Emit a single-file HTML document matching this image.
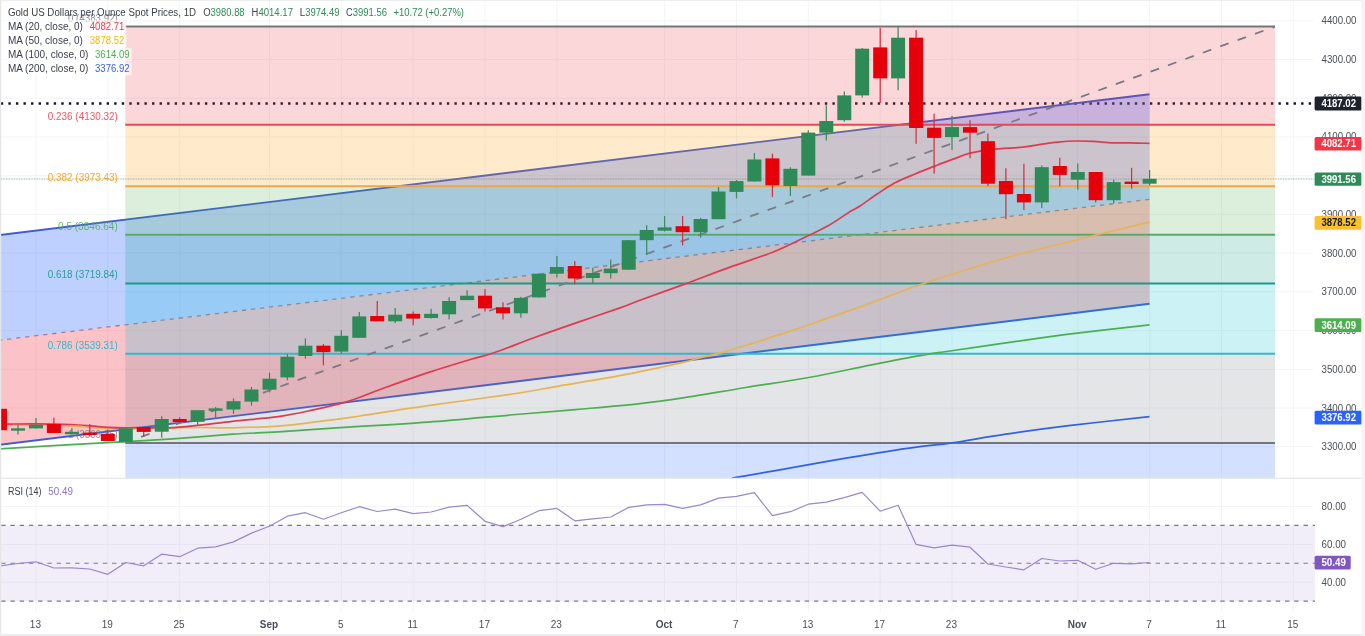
<!DOCTYPE html>
<html lang="en"><head><meta charset="utf-8"><title>Gold US Dollars per Ounce Spot Prices, 1D</title>
<style>html,body{margin:0;padding:0;background:#fff;overflow:hidden}svg{display:block}</style></head>
<body>
<svg width="1365" height="636" viewBox="0 0 1365 636" font-family="'Liberation Sans', sans-serif">
<rect width="1365" height="636" fill="#fff"/>
<g stroke="#f3f4f8" stroke-width="1">
<line x1="36.0" y1="1" x2="36.0" y2="612"/>
<line x1="107.8" y1="1" x2="107.8" y2="612"/>
<line x1="179.7" y1="1" x2="179.7" y2="612"/>
<line x1="269.5" y1="1" x2="269.5" y2="612"/>
<line x1="341.3" y1="1" x2="341.3" y2="612"/>
<line x1="413.2" y1="1" x2="413.2" y2="612"/>
<line x1="485.0" y1="1" x2="485.0" y2="612"/>
<line x1="556.9" y1="1" x2="556.9" y2="612"/>
<line x1="664.6" y1="1" x2="664.6" y2="612"/>
<line x1="736.5" y1="1" x2="736.5" y2="612"/>
<line x1="808.3" y1="1" x2="808.3" y2="612"/>
<line x1="880.2" y1="1" x2="880.2" y2="612"/>
<line x1="952.0" y1="1" x2="952.0" y2="612"/>
<line x1="1077.8" y1="1" x2="1077.8" y2="612"/>
<line x1="1149.6" y1="1" x2="1149.6" y2="612"/>
<line x1="1221.5" y1="1" x2="1221.5" y2="612"/>
<line x1="1293.3" y1="1" x2="1293.3" y2="612"/>
<line x1="1" y1="20.8" x2="1313" y2="20.8"/>
<line x1="1" y1="59.5" x2="1313" y2="59.5"/>
<line x1="1" y1="98.2" x2="1313" y2="98.2"/>
<line x1="1" y1="136.9" x2="1313" y2="136.9"/>
<line x1="1" y1="175.7" x2="1313" y2="175.7"/>
<line x1="1" y1="214.4" x2="1313" y2="214.4"/>
<line x1="1" y1="253.1" x2="1313" y2="253.1"/>
<line x1="1" y1="291.8" x2="1313" y2="291.8"/>
<line x1="1" y1="330.6" x2="1313" y2="330.6"/>
<line x1="1" y1="369.3" x2="1313" y2="369.3"/>
<line x1="1" y1="408.0" x2="1313" y2="408.0"/>
<line x1="1" y1="446.7" x2="1313" y2="446.7"/>
<line x1="1" y1="506.5" x2="1313" y2="506.5"/>
<line x1="1" y1="544.4" x2="1313" y2="544.4"/>
<line x1="1" y1="582.2" x2="1313" y2="582.2"/>
</g>
<line x1="0.8" y1="103.4" x2="1313" y2="103.4" stroke="#131722" stroke-width="2.5" stroke-dasharray="2.4 5.16"/>
<polygon points="-2.0,235.2 1149.5,94.2 1149.5,199.3 -2.0,340.4" fill="#2962ff" fill-opacity="0.3"/>
<polygon points="-2.0,340.4 1149.5,199.3 1149.5,303.8 -2.0,445.0" fill="#f23645" fill-opacity="0.3"/>
<line x1="-2.0" y1="340.4" x2="1149.5" y2="199.3" stroke="#a57d98" stroke-width="1.3" stroke-dasharray="4.3 4.8"/>
<line x1="-2.0" y1="235.2" x2="1149.5" y2="94.2" stroke="#3f5bd6" stroke-width="1.9"/>
<line x1="-2.0" y1="445.0" x2="1149.5" y2="303.8" stroke="#3f5bd6" stroke-width="1.9"/>
<g fill-opacity="0.2">
<rect x="125.3" y="26.6" width="1149.7" height="98.1" fill="#f23645"/>
<rect x="125.3" y="124.7" width="1149.7" height="61.6" fill="#ff9800"/>
<rect x="125.3" y="186.3" width="1149.7" height="48.4" fill="#4caf50"/>
<rect x="125.3" y="234.7" width="1149.7" height="48.7" fill="#089981"/>
<rect x="125.3" y="283.4" width="1149.7" height="70.4" fill="#00bcd4"/>
<rect x="125.3" y="353.8" width="1149.7" height="89.2" fill="#787b86"/>
<rect x="125.3" y="443.0" width="1149.7" height="35.3" fill="#2962ff"/>
</g>
<line x1="125.3" y1="26.6" x2="1275.0" y2="26.6" stroke="#77757c" stroke-width="2"/>
<line x1="125.3" y1="124.7" x2="1275.0" y2="124.7" stroke="#e04a5c" stroke-width="2"/>
<line x1="125.3" y1="186.3" x2="1275.0" y2="186.3" stroke="#eaa84a" stroke-width="2"/>
<line x1="125.3" y1="234.7" x2="1275.0" y2="234.7" stroke="#58ab66" stroke-width="2"/>
<line x1="125.3" y1="283.4" x2="1275.0" y2="283.4" stroke="#1c9a86" stroke-width="2"/>
<line x1="125.3" y1="353.8" x2="1275.0" y2="353.8" stroke="#30b9cc" stroke-width="2"/>
<line x1="125.3" y1="443.0" x2="1275.0" y2="443.0" stroke="#77757c" stroke-width="2"/>
<line x1="125.8" y1="442.4" x2="1275.0" y2="26.6" stroke="#787b86" stroke-width="1.8" stroke-dasharray="9 9.51" stroke-dashoffset="2.3"/>
<text x="68.0" y="21.5" font-size="10.00" fill="#787b86" text-anchor="start" textLength="49.8" lengthAdjust="spacingAndGlyphs" fill-opacity="0.85">0 (4383.92)</text>
<text x="47.8" y="119.6" font-size="10.00" fill="#f23645" text-anchor="start" textLength="70.0" lengthAdjust="spacingAndGlyphs" fill-opacity="0.85">0.236 (4130.32)</text>
<text x="47.8" y="181.2" font-size="10.00" fill="#ff9800" text-anchor="start" textLength="70.0" lengthAdjust="spacingAndGlyphs" fill-opacity="0.85">0.382 (3973.43)</text>
<text x="58.0" y="229.6" font-size="10.00" fill="#4caf50" text-anchor="start" textLength="59.8" lengthAdjust="spacingAndGlyphs" fill-opacity="0.85">0.5 (3846.64)</text>
<text x="47.8" y="278.3" font-size="10.00" fill="#089981" text-anchor="start" textLength="70.0" lengthAdjust="spacingAndGlyphs" fill-opacity="0.85">0.618 (3719.84)</text>
<text x="47.8" y="348.7" font-size="10.00" fill="#00bcd4" text-anchor="start" textLength="70.0" lengthAdjust="spacingAndGlyphs" fill-opacity="0.85">0.786 (3539.31)</text>
<text x="68.0" y="437.9" font-size="10.00" fill="#787b86" text-anchor="start" textLength="49.8" lengthAdjust="spacingAndGlyphs" fill-opacity="0.85">1 (3309.35)</text>
<g fill="none" stroke-width="1.7" stroke-linejoin="round">
<path d="M-2.0 449.0C10.9 448.2 54.1 445.5 75.4 444.3C96.7 443.1 109.5 442.6 125.7 441.7C141.9 440.8 154.9 440.1 172.7 438.9C190.5 437.6 214.9 435.4 232.5 434.2C250.1 433.0 260.3 433.0 278.2 431.9C296.1 430.8 315.0 429.3 340.0 427.7C365.0 426.1 398.7 424.4 428.0 422.2C457.3 420.0 490.3 416.7 516.0 414.5C541.7 412.3 561.3 410.8 582.0 409.0C602.7 407.2 623.2 405.5 640.0 403.6C656.8 401.8 665.4 400.6 683.0 397.9C700.6 395.2 724.8 390.9 745.8 387.5C766.8 384.1 787.7 381.3 808.7 377.5C829.7 373.7 853.1 368.5 871.6 364.9C890.1 361.3 908.1 357.8 920.0 355.7C931.9 353.6 928.7 354.1 943.0 352.0C957.3 349.9 984.8 345.9 1005.8 342.9C1026.8 339.9 1044.8 337.1 1068.7 334.1C1092.7 331.1 1136.0 326.4 1149.5 324.8" stroke="#4caf50"/>
<path d="M732.0 478.2C739.5 476.9 759.0 473.5 777.0 470.3C795.0 467.1 822.8 462.1 840.0 459.2C857.2 456.2 866.7 454.7 880.0 452.6C893.3 450.5 908.0 448.3 920.0 446.7C932.0 445.1 937.7 445.0 952.0 442.9C966.3 440.8 986.3 437.0 1005.8 434.1C1025.2 431.2 1044.8 428.5 1068.7 425.6C1092.7 422.7 1136.0 418.2 1149.5 416.7" stroke="#2f62e6"/>
<path d="M-2.0 425.3C4.3 425.3 23.9 425.1 36.0 425.2C48.1 425.3 58.4 425.4 70.4 425.9C82.4 426.4 98.8 428.0 108.0 428.4C117.2 428.8 117.0 428.3 125.7 428.2C134.4 428.1 148.1 427.9 160.0 427.8C171.9 427.7 185.3 427.5 197.4 427.5C209.5 427.5 219.0 428.0 232.5 427.8C246.0 427.6 264.7 427.0 278.2 426.1C291.7 425.2 303.1 423.4 313.4 422.2C323.7 421.0 332.2 419.9 340.0 418.9C347.8 417.9 345.3 418.2 360.0 416.0C374.7 413.8 402.0 409.4 428.0 405.7C454.0 401.9 494.0 396.8 516.0 393.5C538.0 390.2 546.0 388.2 560.0 385.8C574.0 383.4 586.7 381.6 600.0 379.2C613.3 376.8 626.2 374.5 640.0 371.7C653.8 368.9 673.0 364.7 683.0 362.4C693.0 360.1 693.0 359.7 700.0 357.9C707.0 356.1 716.8 353.9 725.2 351.6C733.6 349.3 741.9 346.7 750.3 344.1C758.7 341.5 767.1 338.6 775.5 335.9C783.9 333.2 792.2 330.5 800.6 327.7C809.0 324.9 815.9 322.3 825.8 318.9C835.7 315.4 852.4 309.7 860.0 307.0C867.6 304.3 861.6 306.3 871.6 302.6C881.6 298.9 904.3 290.1 920.0 284.7C935.7 279.3 950.0 274.9 965.7 270.0C981.4 265.1 998.6 259.8 1014.0 255.5C1029.4 251.2 1043.3 248.2 1058.0 244.5C1072.7 240.8 1086.8 237.2 1102.0 233.5C1117.2 229.8 1141.6 224.1 1149.5 222.2" stroke="#e6b355"/>
<path d="M-2.0 424.2C-0.6 424.2 0.2 424.2 6.5 424.1C12.8 424.1 25.4 423.8 36.0 423.9C46.6 424.0 61.3 424.2 70.4 424.5C79.5 424.8 84.2 425.3 90.5 425.8C96.8 426.3 102.1 427.0 108.0 427.4C113.9 427.8 121.1 427.9 125.7 427.9C130.3 427.9 128.6 427.6 135.8 427.6C143.1 427.6 158.9 428.2 169.2 427.8C179.5 427.4 186.8 426.5 197.4 425.4C208.0 424.3 219.0 422.8 232.5 421.3C246.0 419.8 264.7 418.5 278.2 416.6C291.7 414.7 303.1 412.1 313.4 409.9C323.7 407.7 332.0 405.7 339.8 403.6C347.6 401.5 352.6 399.8 360.0 397.2C367.4 394.6 372.7 392.1 384.0 388.0C395.3 383.9 413.3 377.4 428.0 372.6C442.7 367.8 461.0 362.3 472.0 359.0C483.0 355.7 483.0 356.6 494.0 352.8C505.0 349.0 523.3 341.6 538.0 336.3C552.7 331.0 568.3 325.6 582.0 320.9C595.7 316.2 610.3 311.3 620.0 307.9C629.7 304.5 629.0 304.4 640.0 300.3C651.0 296.2 671.0 289.1 686.0 283.6C701.0 278.1 715.3 272.4 730.0 267.1C744.7 261.8 761.2 256.8 774.0 251.7C786.8 246.6 797.8 240.7 807.0 236.3C816.2 231.9 821.7 229.5 829.0 225.3C836.3 221.1 845.8 214.2 851.0 211.0C856.2 207.8 855.6 208.9 860.0 206.0C864.4 203.1 871.8 197.7 877.6 193.8C883.4 189.9 888.8 186.1 895.0 182.8C901.2 179.5 908.0 176.9 915.0 174.0C922.0 171.1 930.4 167.8 937.0 165.2C943.6 162.6 949.2 160.6 954.7 158.6C960.2 156.6 963.8 154.6 970.0 153.1C976.2 151.6 983.2 150.4 992.0 149.4C1000.8 148.4 1014.8 148.0 1022.9 147.2C1031.0 146.3 1034.7 145.2 1040.5 144.3C1046.3 143.5 1052.1 142.7 1058.0 142.1C1063.9 141.5 1069.8 141.1 1075.7 141.0C1081.6 140.9 1087.1 141.1 1093.3 141.4C1099.5 141.7 1106.8 142.6 1113.0 142.8C1119.2 143.0 1124.6 142.7 1130.7 142.8C1136.8 142.9 1146.4 143.3 1149.5 143.4" stroke="#e03a52"/>
</g>
<line x1="1" y1="179.0" x2="1314" y2="179.0" stroke="#6f9382" stroke-opacity="0.8" stroke-width="1.2" stroke-dasharray="0.85 0.8"/>
<line x1="0.0" y1="408.8" x2="0.0" y2="430.2" stroke="#d4303f" stroke-width="1.25"/>
<rect x="-7.0" y="408.8" width="14.0" height="21.4" fill="#e6000a"/>
<line x1="18.0" y1="425.0" x2="18.0" y2="434.5" stroke="#3d8a5f" stroke-width="1.25"/>
<rect x="11.0" y="428.3" width="14.0" height="2.4" fill="#2e8b57"/>
<line x1="36.0" y1="418.0" x2="36.0" y2="428.4" stroke="#3d8a5f" stroke-width="1.25"/>
<rect x="29.0" y="424.8" width="14.0" height="3.6" fill="#2e8b57"/>
<line x1="53.9" y1="417.8" x2="53.9" y2="433.0" stroke="#d4303f" stroke-width="1.25"/>
<rect x="46.9" y="424.0" width="14.0" height="9.0" fill="#e6000a"/>
<line x1="71.9" y1="428.0" x2="71.9" y2="434.5" stroke="#3d8a5f" stroke-width="1.25"/>
<rect x="64.9" y="431.8" width="14.0" height="2.4" fill="#2e8b57"/>
<line x1="89.8" y1="424.0" x2="89.8" y2="436.4" stroke="#d4303f" stroke-width="1.25"/>
<rect x="82.8" y="432.6" width="14.0" height="2.4" fill="#e6000a"/>
<line x1="107.8" y1="429.5" x2="107.8" y2="441.0" stroke="#d4303f" stroke-width="1.25"/>
<rect x="100.8" y="433.8" width="14.0" height="7.2" fill="#e6000a"/>
<line x1="125.8" y1="428.3" x2="125.8" y2="442.2" stroke="#3d8a5f" stroke-width="1.25"/>
<rect x="118.8" y="428.3" width="14.0" height="13.9" fill="#2e8b57"/>
<line x1="143.7" y1="427.0" x2="143.7" y2="436.5" stroke="#d4303f" stroke-width="1.25"/>
<rect x="136.7" y="427.0" width="14.0" height="4.9" fill="#e6000a"/>
<line x1="161.7" y1="416.2" x2="161.7" y2="437.7" stroke="#3d8a5f" stroke-width="1.25"/>
<rect x="154.7" y="419.0" width="14.0" height="12.7" fill="#2e8b57"/>
<line x1="179.7" y1="417.3" x2="179.7" y2="423.0" stroke="#d4303f" stroke-width="1.25"/>
<rect x="172.7" y="419.0" width="14.0" height="3.0" fill="#e6000a"/>
<line x1="197.6" y1="410.2" x2="197.6" y2="426.0" stroke="#3d8a5f" stroke-width="1.25"/>
<rect x="190.6" y="410.2" width="14.0" height="11.6" fill="#2e8b57"/>
<line x1="215.6" y1="407.0" x2="215.6" y2="417.8" stroke="#3d8a5f" stroke-width="1.25"/>
<rect x="208.6" y="408.4" width="14.0" height="2.4" fill="#2e8b57"/>
<line x1="233.5" y1="398.3" x2="233.5" y2="413.7" stroke="#3d8a5f" stroke-width="1.25"/>
<rect x="226.5" y="401.2" width="14.0" height="8.3" fill="#2e8b57"/>
<line x1="251.5" y1="386.9" x2="251.5" y2="405.6" stroke="#3d8a5f" stroke-width="1.25"/>
<rect x="244.5" y="389.5" width="14.0" height="12.1" fill="#2e8b57"/>
<line x1="269.5" y1="372.6" x2="269.5" y2="392.4" stroke="#3d8a5f" stroke-width="1.25"/>
<rect x="262.5" y="378.7" width="14.0" height="11.0" fill="#2e8b57"/>
<line x1="287.4" y1="353.8" x2="287.4" y2="380.3" stroke="#3d8a5f" stroke-width="1.25"/>
<rect x="280.4" y="356.7" width="14.0" height="20.7" fill="#2e8b57"/>
<line x1="305.4" y1="338.4" x2="305.4" y2="358.7" stroke="#3d8a5f" stroke-width="1.25"/>
<rect x="298.4" y="345.7" width="14.0" height="10.3" fill="#2e8b57"/>
<line x1="323.4" y1="344.0" x2="323.4" y2="365.3" stroke="#d4303f" stroke-width="1.25"/>
<rect x="316.4" y="345.7" width="14.0" height="6.4" fill="#e6000a"/>
<line x1="341.3" y1="330.3" x2="341.3" y2="353.8" stroke="#3d8a5f" stroke-width="1.25"/>
<rect x="334.3" y="335.8" width="14.0" height="15.8" fill="#2e8b57"/>
<line x1="359.3" y1="312.0" x2="359.3" y2="337.8" stroke="#3d8a5f" stroke-width="1.25"/>
<rect x="352.3" y="316.4" width="14.0" height="21.4" fill="#2e8b57"/>
<line x1="377.2" y1="301.0" x2="377.2" y2="321.3" stroke="#d4303f" stroke-width="1.25"/>
<rect x="370.2" y="316.0" width="14.0" height="5.3" fill="#e6000a"/>
<line x1="395.2" y1="308.0" x2="395.2" y2="323.0" stroke="#3d8a5f" stroke-width="1.25"/>
<rect x="388.2" y="314.7" width="14.0" height="6.6" fill="#2e8b57"/>
<line x1="413.2" y1="311.4" x2="413.2" y2="325.2" stroke="#d4303f" stroke-width="1.25"/>
<rect x="406.2" y="313.8" width="14.0" height="4.8" fill="#e6000a"/>
<line x1="431.1" y1="308.7" x2="431.1" y2="318.6" stroke="#3d8a5f" stroke-width="1.25"/>
<rect x="424.1" y="313.8" width="14.0" height="4.2" fill="#2e8b57"/>
<line x1="449.1" y1="297.2" x2="449.1" y2="319.6" stroke="#3d8a5f" stroke-width="1.25"/>
<rect x="442.1" y="301.0" width="14.0" height="13.3" fill="#2e8b57"/>
<line x1="467.1" y1="290.2" x2="467.1" y2="300.1" stroke="#3d8a5f" stroke-width="1.25"/>
<rect x="460.1" y="295.7" width="14.0" height="4.4" fill="#2e8b57"/>
<line x1="485.0" y1="289.0" x2="485.0" y2="311.5" stroke="#d4303f" stroke-width="1.25"/>
<rect x="478.0" y="295.7" width="14.0" height="12.7" fill="#e6000a"/>
<line x1="503.0" y1="302.3" x2="503.0" y2="319.5" stroke="#d4303f" stroke-width="1.25"/>
<rect x="496.0" y="307.3" width="14.0" height="6.0" fill="#e6000a"/>
<line x1="520.9" y1="296.8" x2="520.9" y2="317.7" stroke="#3d8a5f" stroke-width="1.25"/>
<rect x="513.9" y="297.9" width="14.0" height="15.4" fill="#2e8b57"/>
<line x1="538.9" y1="273.3" x2="538.9" y2="297.8" stroke="#3d8a5f" stroke-width="1.25"/>
<rect x="531.9" y="273.7" width="14.0" height="23.7" fill="#2e8b57"/>
<line x1="556.9" y1="256.0" x2="556.9" y2="277.6" stroke="#3d8a5f" stroke-width="1.25"/>
<rect x="549.9" y="267.0" width="14.0" height="6.7" fill="#2e8b57"/>
<line x1="574.8" y1="260.9" x2="574.8" y2="284.2" stroke="#d4303f" stroke-width="1.25"/>
<rect x="567.8" y="266.0" width="14.0" height="12.5" fill="#e6000a"/>
<line x1="592.8" y1="267.5" x2="592.8" y2="283.6" stroke="#3d8a5f" stroke-width="1.25"/>
<rect x="585.8" y="273.0" width="14.0" height="5.0" fill="#2e8b57"/>
<line x1="610.7" y1="259.4" x2="610.7" y2="278.5" stroke="#3d8a5f" stroke-width="1.25"/>
<rect x="603.7" y="268.6" width="14.0" height="4.6" fill="#2e8b57"/>
<line x1="628.7" y1="240.2" x2="628.7" y2="269.7" stroke="#3d8a5f" stroke-width="1.25"/>
<rect x="621.7" y="240.2" width="14.0" height="29.5" fill="#2e8b57"/>
<line x1="646.7" y1="225.2" x2="646.7" y2="255.0" stroke="#3d8a5f" stroke-width="1.25"/>
<rect x="639.7" y="230.0" width="14.0" height="10.2" fill="#2e8b57"/>
<line x1="664.6" y1="216.0" x2="664.6" y2="231.4" stroke="#3d8a5f" stroke-width="1.25"/>
<rect x="657.6" y="227.4" width="14.0" height="3.3" fill="#2e8b57"/>
<line x1="682.6" y1="216.1" x2="682.6" y2="245.4" stroke="#d4303f" stroke-width="1.25"/>
<rect x="675.6" y="226.2" width="14.0" height="6.0" fill="#e6000a"/>
<line x1="700.6" y1="217.9" x2="700.6" y2="237.7" stroke="#3d8a5f" stroke-width="1.25"/>
<rect x="693.6" y="219.0" width="14.0" height="13.2" fill="#2e8b57"/>
<line x1="718.5" y1="187.0" x2="718.5" y2="219.2" stroke="#3d8a5f" stroke-width="1.25"/>
<rect x="711.5" y="191.5" width="14.0" height="27.7" fill="#2e8b57"/>
<line x1="736.5" y1="180.0" x2="736.5" y2="198.5" stroke="#3d8a5f" stroke-width="1.25"/>
<rect x="729.5" y="181.1" width="14.0" height="10.8" fill="#2e8b57"/>
<line x1="754.4" y1="153.0" x2="754.4" y2="181.5" stroke="#3d8a5f" stroke-width="1.25"/>
<rect x="747.4" y="159.5" width="14.0" height="22.0" fill="#2e8b57"/>
<line x1="772.4" y1="153.6" x2="772.4" y2="197.0" stroke="#d4303f" stroke-width="1.25"/>
<rect x="765.4" y="158.4" width="14.0" height="26.9" fill="#e6000a"/>
<line x1="790.4" y1="167.2" x2="790.4" y2="195.9" stroke="#3d8a5f" stroke-width="1.25"/>
<rect x="783.4" y="168.8" width="14.0" height="17.2" fill="#2e8b57"/>
<line x1="808.3" y1="130.3" x2="808.3" y2="175.6" stroke="#3d8a5f" stroke-width="1.25"/>
<rect x="801.3" y="132.6" width="14.0" height="43.0" fill="#2e8b57"/>
<line x1="826.3" y1="105.3" x2="826.3" y2="140.6" stroke="#3d8a5f" stroke-width="1.25"/>
<rect x="819.3" y="121.0" width="14.0" height="11.7" fill="#2e8b57"/>
<line x1="844.3" y1="91.6" x2="844.3" y2="121.8" stroke="#3d8a5f" stroke-width="1.25"/>
<rect x="837.3" y="95.4" width="14.0" height="24.8" fill="#2e8b57"/>
<line x1="862.2" y1="48.0" x2="862.2" y2="97.6" stroke="#3d8a5f" stroke-width="1.25"/>
<rect x="855.2" y="48.7" width="14.0" height="46.7" fill="#2e8b57"/>
<line x1="880.2" y1="27.8" x2="880.2" y2="103.0" stroke="#d4303f" stroke-width="1.25"/>
<rect x="873.2" y="47.4" width="14.0" height="31.0" fill="#e6000a"/>
<line x1="898.1" y1="27.1" x2="898.1" y2="90.3" stroke="#3d8a5f" stroke-width="1.25"/>
<rect x="891.1" y="37.7" width="14.0" height="40.7" fill="#2e8b57"/>
<line x1="916.1" y1="30.0" x2="916.1" y2="143.8" stroke="#d4303f" stroke-width="1.25"/>
<rect x="909.1" y="37.7" width="14.0" height="90.3" fill="#e6000a"/>
<line x1="934.1" y1="113.8" x2="934.1" y2="173.8" stroke="#d4303f" stroke-width="1.25"/>
<rect x="927.1" y="127.7" width="14.0" height="10.2" fill="#e6000a"/>
<line x1="952.0" y1="115.7" x2="952.0" y2="150.0" stroke="#3d8a5f" stroke-width="1.25"/>
<rect x="945.0" y="127.1" width="14.0" height="10.0" fill="#2e8b57"/>
<line x1="970.0" y1="120.2" x2="970.0" y2="158.3" stroke="#d4303f" stroke-width="1.25"/>
<rect x="963.0" y="127.1" width="14.0" height="5.6" fill="#e6000a"/>
<line x1="987.9" y1="133.5" x2="987.9" y2="185.9" stroke="#d4303f" stroke-width="1.25"/>
<rect x="980.9" y="141.2" width="14.0" height="42.5" fill="#e6000a"/>
<line x1="1005.9" y1="168.3" x2="1005.9" y2="219.3" stroke="#d4303f" stroke-width="1.25"/>
<rect x="998.9" y="181.0" width="14.0" height="13.2" fill="#e6000a"/>
<line x1="1023.9" y1="163.8" x2="1023.9" y2="210.0" stroke="#d4303f" stroke-width="1.25"/>
<rect x="1016.9" y="194.0" width="14.0" height="8.4" fill="#e6000a"/>
<line x1="1041.8" y1="165.4" x2="1041.8" y2="207.9" stroke="#3d8a5f" stroke-width="1.25"/>
<rect x="1034.8" y="167.2" width="14.0" height="35.2" fill="#2e8b57"/>
<line x1="1059.8" y1="157.7" x2="1059.8" y2="186.3" stroke="#d4303f" stroke-width="1.25"/>
<rect x="1052.8" y="166.0" width="14.0" height="8.9" fill="#e6000a"/>
<line x1="1077.8" y1="163.4" x2="1077.8" y2="189.8" stroke="#3d8a5f" stroke-width="1.25"/>
<rect x="1070.8" y="172.0" width="14.0" height="7.7" fill="#2e8b57"/>
<line x1="1095.7" y1="172.0" x2="1095.7" y2="202.4" stroke="#d4303f" stroke-width="1.25"/>
<rect x="1088.7" y="172.0" width="14.0" height="28.2" fill="#e6000a"/>
<line x1="1113.7" y1="179.7" x2="1113.7" y2="203.5" stroke="#3d8a5f" stroke-width="1.25"/>
<rect x="1106.7" y="182.1" width="14.0" height="18.1" fill="#2e8b57"/>
<line x1="1131.6" y1="167.8" x2="1131.6" y2="188.7" stroke="#d4303f" stroke-width="1.25"/>
<rect x="1124.6" y="181.6" width="14.0" height="2.4" fill="#e6000a"/>
<line x1="1149.6" y1="170.0" x2="1149.6" y2="185.4" stroke="#3d8a5f" stroke-width="1.25"/>
<rect x="1142.6" y="178.8" width="14.0" height="4.9" fill="#2e8b57"/>
<line x1="0" y1="478.3" x2="1365" y2="478.3" stroke="#e6e8ec" stroke-width="1.3"/>
<rect x="0" y="525.4" width="1315" height="75.7" fill="#7e57c2" fill-opacity="0.1"/>
<line x1="1.2" y1="525.4" x2="1315" y2="525.4" stroke="#787b86" stroke-width="1.1" stroke-dasharray="4.4 4.836"/>
<line x1="1.2" y1="563.3" x2="1315" y2="563.3" stroke="#787b86" stroke-width="1.1" stroke-dasharray="4.4 4.836"/>
<line x1="1.2" y1="601.1" x2="1315" y2="601.1" stroke="#787b86" stroke-width="1.1" stroke-dasharray="4.4 4.836"/>
<polyline fill="none" stroke="#9b87cc" stroke-width="1.2" stroke-linejoin="round" points="0.0,565.8 18.0,563.5 36.0,561.8 53.9,568.0 71.9,567.8 89.8,569.0 107.8,574.3 125.8,562.5 143.7,565.8 161.7,554.2 179.7,556.7 197.6,548.2 215.6,546.9 233.5,541.9 251.5,533.1 269.5,526.3 287.4,516.2 305.4,512.7 323.4,519.3 341.3,512.7 359.3,506.7 377.2,511.5 395.2,509.2 413.2,513.7 431.1,512.0 449.1,507.2 467.1,505.4 485.0,521.3 503.0,526.6 520.9,519.3 538.9,510.7 556.9,508.4 574.8,520.8 592.8,518.8 610.7,517.0 628.7,507.4 646.7,504.9 664.6,504.4 682.6,508.4 700.6,504.9 718.5,498.1 736.5,496.4 754.4,492.6 772.4,515.7 790.4,511.7 808.3,504.2 826.3,502.2 844.3,497.6 862.2,492.3 880.2,511.2 898.1,505.2 916.1,544.4 934.1,547.9 952.0,545.2 970.0,547.2 987.9,564.0 1005.9,567.0 1023.9,569.8 1041.8,558.5 1059.8,561.0 1077.8,560.3 1095.7,569.3 1113.7,563.3 1131.6,563.8 1149.6,562.5"/>
<text x="7.9" y="15.7" font-size="10.00" fill="#3a3e4a" text-anchor="start" textLength="188.2" lengthAdjust="spacingAndGlyphs">Gold US Dollars per Ounce Spot Prices, 1D</text>
<text x="203.2" y="15.7" font-size="10.00" fill="#3a3e4a" text-anchor="start" textLength="7.4" lengthAdjust="spacingAndGlyphs">O</text>
<text x="210.6" y="15.7" font-size="10.00" fill="#2e8b57" text-anchor="start" textLength="34.0" lengthAdjust="spacingAndGlyphs">3980.88</text>
<text x="251.5" y="15.7" font-size="10.00" fill="#3a3e4a" text-anchor="start" textLength="6.8" lengthAdjust="spacingAndGlyphs">H</text>
<text x="258.4" y="15.7" font-size="10.00" fill="#2e8b57" text-anchor="start" textLength="34.6" lengthAdjust="spacingAndGlyphs">4014.17</text>
<text x="299.8" y="15.7" font-size="10.00" fill="#3a3e4a" text-anchor="start" textLength="5.4" lengthAdjust="spacingAndGlyphs">L</text>
<text x="305.3" y="15.7" font-size="10.00" fill="#2e8b57" text-anchor="start" textLength="34.2" lengthAdjust="spacingAndGlyphs">3974.49</text>
<text x="346.0" y="15.7" font-size="10.00" fill="#3a3e4a" text-anchor="start" textLength="6.6" lengthAdjust="spacingAndGlyphs">C</text>
<text x="352.7" y="15.7" font-size="10.00" fill="#2e8b57" text-anchor="start" textLength="34.3" lengthAdjust="spacingAndGlyphs">3991.56</text>
<text x="393.5" y="15.7" font-size="10.00" fill="#2e8b57" text-anchor="start" textLength="70.5" lengthAdjust="spacingAndGlyphs">+10.72 (+0.27%)</text>
<rect x="5" y="19.8" width="121.4" height="13" fill="#fff" fill-opacity="0.6"/>
<text x="7.9" y="29.8" font-size="10.00" fill="#3a3e4a" text-anchor="start" textLength="75.0" lengthAdjust="spacingAndGlyphs">MA (20, close, 0)</text>
<text x="89.8" y="29.8" font-size="10.00" fill="#f23645" text-anchor="start" textLength="34.6" lengthAdjust="spacingAndGlyphs">4082.71</text>
<rect x="5" y="34.0" width="121.4" height="13" fill="#fff" fill-opacity="0.6"/>
<text x="7.9" y="44.0" font-size="10.00" fill="#3a3e4a" text-anchor="start" textLength="75.0" lengthAdjust="spacingAndGlyphs">MA (50, close, 0)</text>
<text x="89.8" y="44.0" font-size="10.00" fill="#f5b800" text-anchor="start" textLength="34.6" lengthAdjust="spacingAndGlyphs">3878.52</text>
<rect x="5" y="48.2" width="126.6" height="13" fill="#fff" fill-opacity="0.6"/>
<text x="7.9" y="58.2" font-size="10.00" fill="#3a3e4a" text-anchor="start" textLength="80.5" lengthAdjust="spacingAndGlyphs">MA (100, close, 0)</text>
<text x="95.0" y="58.2" font-size="10.00" fill="#4caf50" text-anchor="start" textLength="34.6" lengthAdjust="spacingAndGlyphs">3614.09</text>
<rect x="5" y="62.4" width="126.6" height="13" fill="#fff" fill-opacity="0.6"/>
<text x="7.9" y="72.4" font-size="10.00" fill="#3a3e4a" text-anchor="start" textLength="80.5" lengthAdjust="spacingAndGlyphs">MA (200, close, 0)</text>
<text x="95.0" y="72.4" font-size="10.00" fill="#3b62d8" text-anchor="start" textLength="34.6" lengthAdjust="spacingAndGlyphs">3376.92</text>
<text x="7.9" y="495.0" font-size="10.00" fill="#3a3e4a" text-anchor="start" textLength="33.5" lengthAdjust="spacingAndGlyphs">RSI (14)</text>
<text x="48.3" y="495.0" font-size="10.00" fill="#8e72c9" text-anchor="start" textLength="24.6" lengthAdjust="spacingAndGlyphs">50.49</text>
<text x="1321.6" y="24.2" font-size="10.00" fill="#4a4e59" text-anchor="start" textLength="34.9" lengthAdjust="spacingAndGlyphs">4400.00</text>
<text x="1321.6" y="63.0" font-size="10.00" fill="#4a4e59" text-anchor="start" textLength="34.9" lengthAdjust="spacingAndGlyphs">4300.00</text>
<text x="1321.6" y="101.7" font-size="10.00" fill="#4a4e59" text-anchor="start" textLength="34.9" lengthAdjust="spacingAndGlyphs">4200.00</text>
<text x="1321.6" y="140.4" font-size="10.00" fill="#4a4e59" text-anchor="start" textLength="34.9" lengthAdjust="spacingAndGlyphs">4100.00</text>
<text x="1321.6" y="217.9" font-size="10.00" fill="#4a4e59" text-anchor="start" textLength="34.9" lengthAdjust="spacingAndGlyphs">3900.00</text>
<text x="1321.6" y="256.6" font-size="10.00" fill="#4a4e59" text-anchor="start" textLength="34.9" lengthAdjust="spacingAndGlyphs">3800.00</text>
<text x="1321.6" y="295.3" font-size="10.00" fill="#4a4e59" text-anchor="start" textLength="34.9" lengthAdjust="spacingAndGlyphs">3700.00</text>
<text x="1321.6" y="334.1" font-size="10.00" fill="#4a4e59" text-anchor="start" textLength="34.9" lengthAdjust="spacingAndGlyphs">3600.00</text>
<text x="1321.6" y="372.8" font-size="10.00" fill="#4a4e59" text-anchor="start" textLength="34.9" lengthAdjust="spacingAndGlyphs">3500.00</text>
<text x="1321.6" y="411.5" font-size="10.00" fill="#4a4e59" text-anchor="start" textLength="34.9" lengthAdjust="spacingAndGlyphs">3400.00</text>
<text x="1321.6" y="450.2" font-size="10.00" fill="#4a4e59" text-anchor="start" textLength="34.9" lengthAdjust="spacingAndGlyphs">3300.00</text>
<text x="1321.6" y="510.2" font-size="10.00" fill="#4a4e59" text-anchor="start" textLength="24.4" lengthAdjust="spacingAndGlyphs">80.00</text>
<text x="1321.6" y="548.1" font-size="10.00" fill="#4a4e59" text-anchor="start" textLength="24.4" lengthAdjust="spacingAndGlyphs">60.00</text>
<text x="1321.6" y="585.9" font-size="10.00" fill="#4a4e59" text-anchor="start" textLength="24.4" lengthAdjust="spacingAndGlyphs">40.00</text>
<rect x="1314.6" y="96.6" width="47.4" height="13.8" rx="1.5" fill="#1e222d"/>
<text x="1321.4" y="107.0" font-size="10.00" fill="#fff" text-anchor="start" textLength="34.6" lengthAdjust="spacingAndGlyphs" font-weight="bold">4187.02</text>
<rect x="1314.6" y="137.0" width="47.4" height="13.6" rx="1.5" fill="#f23645"/>
<text x="1321.4" y="147.3" font-size="10.00" fill="#fff" text-anchor="start" textLength="34.6" lengthAdjust="spacingAndGlyphs" font-weight="bold">4082.71</text>
<rect x="1314.6" y="172.6" width="47.4" height="13.2" rx="1.5" fill="#2e8b57"/>
<text x="1321.4" y="182.7" font-size="10.00" fill="#fff" text-anchor="start" textLength="34.6" lengthAdjust="spacingAndGlyphs" font-weight="bold">3991.56</text>
<rect x="1314.6" y="216.0" width="47.4" height="13.8" rx="1.5" fill="#fbc02d"/>
<text x="1321.4" y="226.4" font-size="10.00" fill="#131722" text-anchor="start" textLength="34.6" lengthAdjust="spacingAndGlyphs" font-weight="bold">3878.52</text>
<rect x="1314.6" y="318.3" width="47.4" height="13.7" rx="1.5" fill="#4caf50"/>
<text x="1321.4" y="328.6" font-size="10.00" fill="#fff" text-anchor="start" textLength="34.6" lengthAdjust="spacingAndGlyphs" font-weight="bold">3614.09</text>
<rect x="1314.6" y="410.8" width="47.4" height="13.7" rx="1.5" fill="#2962ff"/>
<text x="1321.4" y="421.1" font-size="10.00" fill="#fff" text-anchor="start" textLength="34.6" lengthAdjust="spacingAndGlyphs" font-weight="bold">3376.92</text>
<rect x="1314.6" y="555.7" width="36.1" height="13.9" rx="1.5" fill="#7e57c2"/>
<text x="1321.4" y="566.2" font-size="10.00" fill="#fff" text-anchor="start" textLength="24.6" lengthAdjust="spacingAndGlyphs" font-weight="bold">50.49</text>
<text x="35.4" y="628.0" font-size="10.00" fill="#4a4e59" text-anchor="middle">13</text>
<text x="107.2" y="628.0" font-size="10.00" fill="#4a4e59" text-anchor="middle">19</text>
<text x="179.1" y="628.0" font-size="10.00" fill="#4a4e59" text-anchor="middle">25</text>
<text x="268.9" y="628.0" font-size="10.00" fill="#4a4e59" text-anchor="middle" font-weight="bold">Sep</text>
<text x="340.7" y="628.0" font-size="10.00" fill="#4a4e59" text-anchor="middle">5</text>
<text x="412.6" y="628.0" font-size="10.00" fill="#4a4e59" text-anchor="middle">11</text>
<text x="484.4" y="628.0" font-size="10.00" fill="#4a4e59" text-anchor="middle">17</text>
<text x="556.3" y="628.0" font-size="10.00" fill="#4a4e59" text-anchor="middle">23</text>
<text x="664.0" y="628.0" font-size="10.00" fill="#4a4e59" text-anchor="middle" font-weight="bold">Oct</text>
<text x="735.9" y="628.0" font-size="10.00" fill="#4a4e59" text-anchor="middle">7</text>
<text x="807.7" y="628.0" font-size="10.00" fill="#4a4e59" text-anchor="middle">13</text>
<text x="879.6" y="628.0" font-size="10.00" fill="#4a4e59" text-anchor="middle">17</text>
<text x="951.4" y="628.0" font-size="10.00" fill="#4a4e59" text-anchor="middle">23</text>
<text x="1077.2" y="628.0" font-size="10.00" fill="#4a4e59" text-anchor="middle" font-weight="bold">Nov</text>
<text x="1149.0" y="628.0" font-size="10.00" fill="#4a4e59" text-anchor="middle">7</text>
<text x="1220.9" y="628.0" font-size="10.00" fill="#4a4e59" text-anchor="middle">11</text>
<text x="1292.7" y="628.0" font-size="10.00" fill="#4a4e59" text-anchor="middle">15</text>
<rect x="0" y="0" width="1365" height="0.9" fill="#ececee"/>
<rect x="0" y="0" width="1.2" height="636" fill="#e6e6e9"/>
<rect x="0" y="633.8" width="1365" height="2.2" fill="#eeeef1"/>
<rect x="1361.3" y="0" width="3.7" height="636" fill="#f5f5f7"/>
</svg>
</body></html>
